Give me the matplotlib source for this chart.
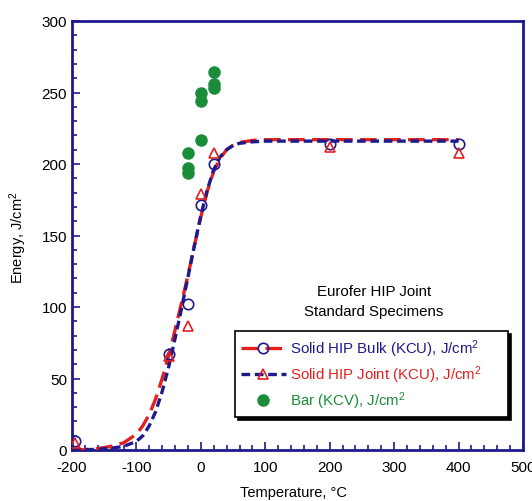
import matplotlib.pyplot as plt
from matplotlib.ticker import MultipleLocator

plt.rcParams["font.family"] = ["Liberation Sans", "DejaVu Sans"]
plt.rcParams["mathtext.default"] = "regular"
plt.rcParams["axes.unicode_minus"] = False

NAVY = "#1e1a8c"
RED = "#e3201e"
GREEN = "#1a8c3a"

# --- fitted curves ---
curve_t = [-200, -180, -160, -140, -120, -100, -90, -80, -70, -60, -50, -40, -30,
           -20, -10, 0, 10, 20, 30, 40, 50, 60, 80, 100, 150, 200, 300, 400]
bulk_fit = [0, 0.3, 1, 2.5, 5, 11, 17, 25, 36, 50, 66, 84, 103,
            122, 143, 163, 181, 195, 204, 210, 213, 215, 216.5, 217, 217, 217, 217, 217]
joint_fit = [0, 0.2, 0.5, 1.2, 2.5, 6, 10, 17, 27, 41, 58, 78, 99,
             121, 143, 164, 182, 196, 205, 210, 213, 214.5, 215.5, 216, 216, 216, 216, 216]

# --- measured points ---
bulk_t = [-196, -50, -20, 0, 20, 200, 400]
bulk_e = [6, 67, 102, 171, 200, 214, 214]
joint_t = [-196, -50, -20, 0, 20, 200, 400]
joint_e = [5, 66, 87, 179, 208, 212, 208]
bar_t = [-20, -20, -20, 0, 0, 0, 20, 20, 20]
bar_e = [208, 197, 194, 217, 244, 250, 253, 256, 264]

fig = plt.figure(figsize=(5.32, 5.02), dpi=100)
ax = fig.add_axes([72 / 532, 51 / 502, 451 / 532, 429 / 502])

ax.plot(curve_t, bulk_fit, color=RED, lw=2.4, dashes=(5, 2.2), zorder=3)
ax.plot(curve_t, joint_fit, color=NAVY, lw=2.4, dashes=(2.6, 1.4), zorder=3)
ax.plot(bulk_t, bulk_e, ls="none", marker="o", ms=7.5, mfc="none", mec=NAVY, mew=1.2, zorder=4)
ax.plot(joint_t, joint_e, ls="none", marker="^", ms=7.5, mfc="none", mec=RED, mew=1.2, zorder=4)
ax.plot(bar_t, bar_e, ls="none", marker="o", ms=8, color=GREEN, zorder=4)

# legend proxies (line + marker as in the reference)
h1, = ax.plot([], [], color=RED, lw=2.4, dashes=(5, 2.2), marker="o", ms=7.5,
              mfc="none", mec=NAVY, mew=1.2)
h2, = ax.plot([], [], color=NAVY, lw=2.4, dashes=(2.6, 1.4), marker="^", ms=7.5,
              mfc="none", mec=RED, mew=1.2)
h3, = ax.plot([], [], ls="none", marker="o", ms=8, color=GREEN)
leg = ax.legend([h1, h2, h3],
                ["Solid HIP Bulk (KCU), J/cm$^2$", "Solid HIP Joint (KCU), J/cm$^2$",
                 "Bar (KCV), J/cm$^2$"],
                loc="lower left", bbox_to_anchor=(0.361, 0.077, 0.606, 0.2), mode="expand",
                fontsize=10.8, handlelength=3.0, handletextpad=0.3, borderpad=0.4,
                labelspacing=0.3, fancybox=False, shadow={"color": "black", "alpha": 1},
                edgecolor="black", framealpha=1, borderaxespad=0,
                labelcolor=[NAVY, RED, GREEN])
leg.get_frame().set_linewidth(1.2)

ax.text(0.67, 0.347, "Eurofer HIP Joint\nStandard Specimens", transform=ax.transAxes,
        ha="center", va="center", fontsize=10.8, linespacing=1.5)

ax.set_xlim(-200, 500)
ax.set_ylim(0, 300)
ax.xaxis.set_major_locator(MultipleLocator(100))
ax.xaxis.set_minor_locator(MultipleLocator(20))
ax.yaxis.set_major_locator(MultipleLocator(50))
ax.yaxis.set_minor_locator(MultipleLocator(10))
ax.tick_params(which="both", direction="in", color=NAVY, width=1.2, labelsize=11)
ax.tick_params(which="major", length=6)
ax.tick_params(which="minor", length=3.5)
ax.tick_params(axis="x", pad=7)
for s in ax.spines.values():
    s.set_color(NAVY)
    s.set_linewidth(2)

fig.text(293 / 532, 1 - 493 / 502, "Temperature, °C", ha="center", va="center", fontsize=10.5)
fig.text(18 / 532, 1 - 238 / 502, "Energy, J/cm$^2$", ha="center", va="center",
         rotation=90, fontsize=10.5)

fig.savefig("out.png", dpi=100)
